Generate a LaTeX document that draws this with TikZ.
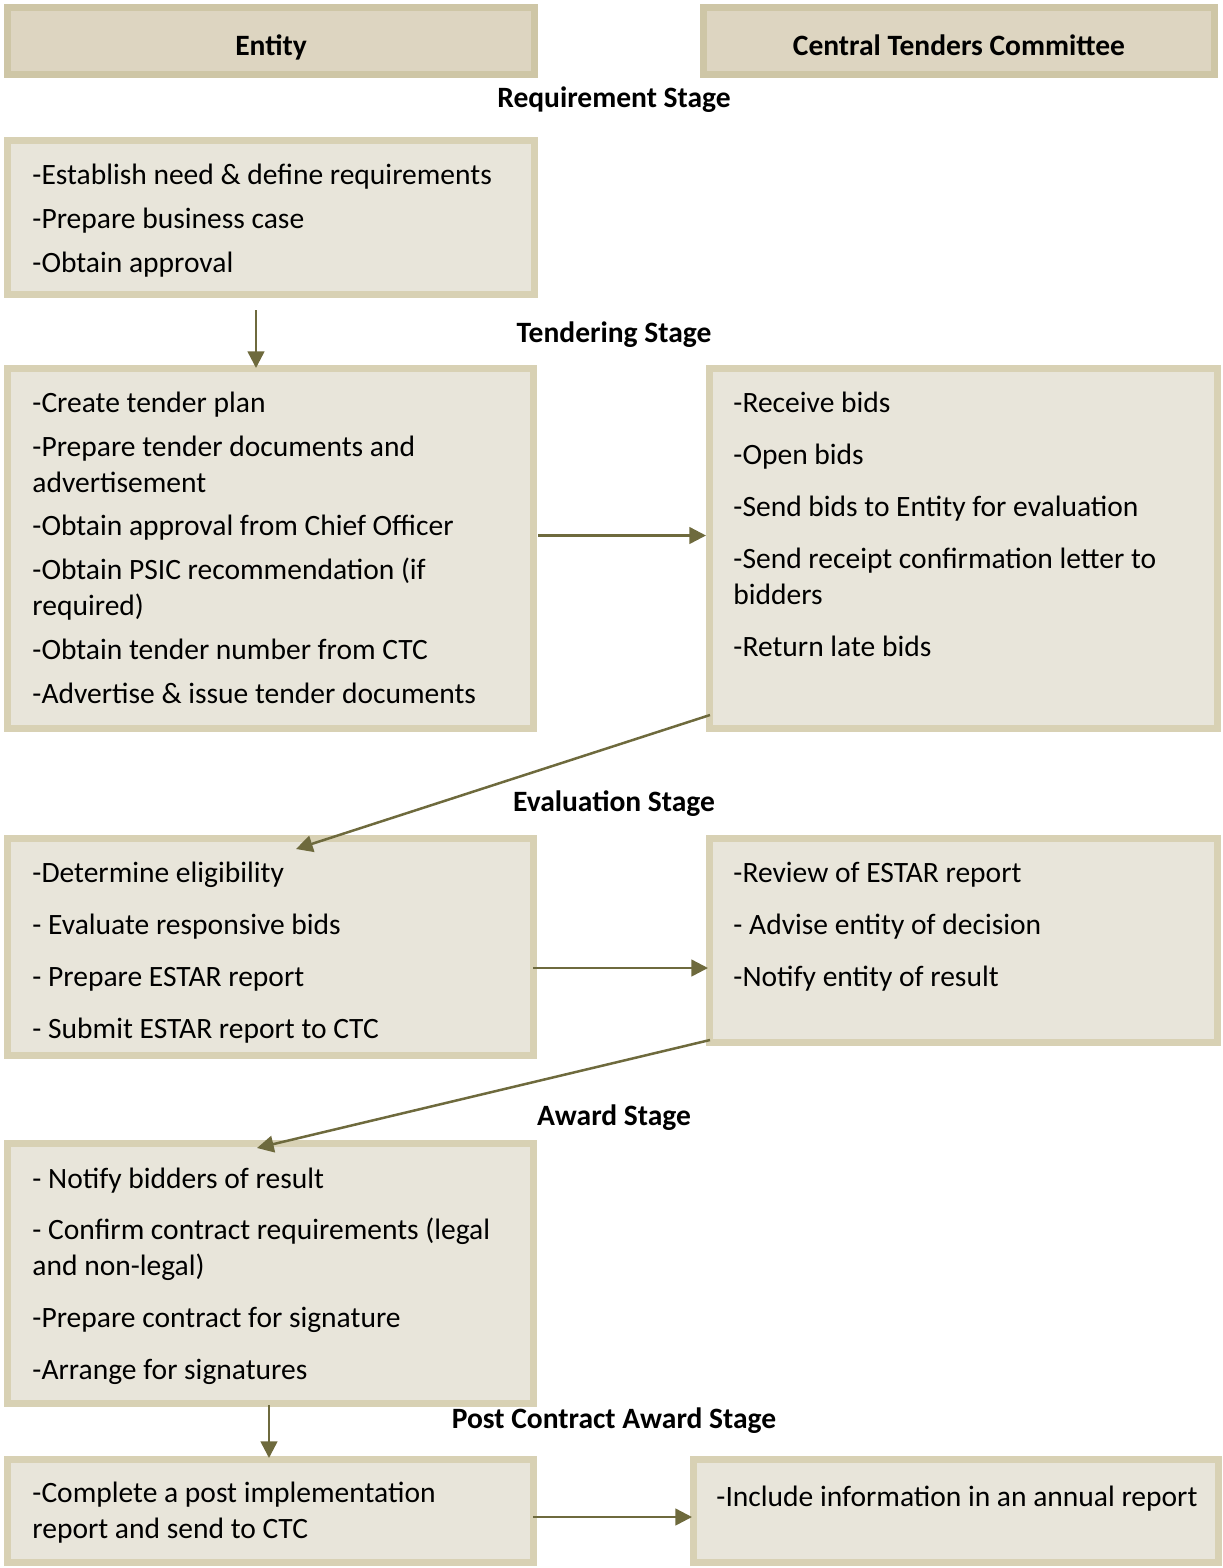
\documentclass[tikz,border=0pt]{standalone}
\usepackage{fontspec}
\setmainfont{Carlito}
\usetikzlibrary{arrows.meta}
\newlength\unitpx
\setlength\unitpx{0.42pt}
\definecolor{headfill}{HTML}{DDD5C1}
\definecolor{headline}{HTML}{CEC6A6}
\definecolor{boxfill}{HTML}{E8E5DA}
\definecolor{boxline}{HTML}{D8D1B4}
\definecolor{arrowcol}{HTML}{6E6A3D}
\tikzset{
  headbox/.style={draw=headline, fill=headfill, line width=7\unitpx, anchor=north west, inner sep=0,
    text height=11.8pt, text depth=0pt, font=\fontsize{12.4}{15.12}\selectfont\bfseries},
  stagebox/.style={draw=boxline, fill=boxfill, line width=7\unitpx, anchor=north west, inner sep=0},
  stagetext/.style={anchor=north west, inner sep=0, align=left, execute at begin node={\rule{0pt}{0.8em}}},
  stagetitle/.style={anchor=base, font=\fontsize{12.4}{15.12}\selectfont\bfseries},
  flow/.style={draw=arrowcol, line width=1.05pt, -{Triangle[length=7pt,width=7pt]}}
}
\begin{document}
\begin{tikzpicture}[x=0.42pt, y=-0.42pt, font=\fontsize{12.4}{15.12}\selectfont]
\useasboundingbox (0,0) rectangle (1223,1568);

\node[headbox, minimum width=527\unitpx, minimum height=67\unitpx] (ent) at (4,4) {Entity};
\node[headbox, minimum width=511\unitpx, minimum height=67\unitpx] (ctc) at (700,4) {Central Tenders Committee};

\node[stagetitle] (s1) at (614,107) {Requirement Stage};
\node[stagetitle] (s2) at (614,342) {Tendering Stage};
\node[stagetitle] (s3) at (614,811) {Evaluation Stage};
\node[stagetitle] (s4) at (614,1125) {Award Stage};
\node[stagetitle] (s5) at (614,1428) {Post Contract Award Stage};

\node[stagebox, minimum width=527\unitpx, minimum height=154\unitpx] (req) at (4,137) {};
\node[stagebox, minimum width=526\unitpx, minimum height=360\unitpx] (tend) at (4,365) {};
\node[stagebox, minimum width=508\unitpx, minimum height=360\unitpx] (recv) at (706,365) {};
\node[stagebox, minimum width=526\unitpx, minimum height=217\unitpx] (eval) at (4,835) {};
\node[stagebox, minimum width=508\unitpx, minimum height=204\unitpx] (rev) at (706,835) {};
\node[stagebox, minimum width=526\unitpx, minimum height=260\unitpx] (award) at (4,1140) {};
\node[stagebox, minimum width=526\unitpx, minimum height=103\unitpx] (post) at (4,1456) {};
\node[stagebox, minimum width=525\unitpx, minimum height=103\unitpx] (annual) at (690,1456) {};

\node[stagetext] (reqtxt) at ([shift={(28,27)}]req.north west) {-Establish need \& define requirements\\[8\unitpx]
  -Prepare business case\\[8\unitpx]
  -Obtain approval};
\node[stagetext] (tendtxt) at ([shift={(28,27)}]tend.north west) {-Create tender plan\\[8\unitpx]
  -Prepare tender documents and\\ advertisement\\[7\unitpx]
  -Obtain approval from Chief Officer\\[8\unitpx]
  -Obtain PSIC recommendation (if\\ required)\\[8\unitpx]
  -Obtain tender number from CTC\\[8\unitpx]
  -Advertise \& issue tender documents};
\node[stagetext] (recvtxt) at ([shift={(27,27)}]recv.north west) {-Receive bids\\[16\unitpx]
  -Open bids\\[16\unitpx]
  -Send bids to Entity for evaluation\\[16\unitpx]
  -Send receipt confirmation letter to\\ bidders\\[16\unitpx]
  -Return late bids};
\node[stagetext] (evaltxt) at ([shift={(28,27)}]eval.north west) {-Determine eligibility\\[16\unitpx]
  - Evaluate responsive bids\\[16\unitpx]
  - Prepare ESTAR report\\[16\unitpx]
  - Submit ESTAR report to CTC};
\node[stagetext] (revtxt) at ([shift={(27,27)}]rev.north west) {-Review of ESTAR report\\[16\unitpx]
  - Advise entity of decision\\[16\unitpx]
  -Notify entity of result};
\node[stagetext] (awardtxt) at ([shift={(28,28)}]award.north west) {- Notify bidders of result\\[15\unitpx]
  - Confirm contract requirements (legal\\ and non-legal)\\[16\unitpx]
  -Prepare contract for signature\\[16\unitpx]
  -Arrange for signatures};
\node[stagetext] (posttxt) at ([shift={(28,26)}]post.north west) {-Complete a post implementation\\ report and send to CTC};
\node[stagetext] (annualtxt) at ([shift={(26,26)}]annual.north west) {-Include information in an annual report};

\draw[flow] ([shift={(252,12)}]req.south west) -- ([shift={(252,3)}]tend.north west);
\draw[flow] ([shift={(1,-13)}]tend.east) -- ([shift={(0,-13)}]recv.west);
\draw[flow] ([shift={(4,-17)}]recv.south west) -- ([shift={(292,14)}]eval.north west);
\draw[flow] ([shift={(-4,21)}]eval.east) -- ([shift={(2,27.5)}]rev.west);
\draw[flow] ([shift={(4,-6)}]rev.south west) -- ([shift={(253,8)}]award.north west);
\draw[flow] ([shift={(265,-2)}]award.south west) -- ([shift={(265,2)}]post.north west);
\draw[flow] ([shift={(-4,6)}]post.east) -- ([shift={(2,6)}]annual.west);
\end{tikzpicture}
\end{document}
